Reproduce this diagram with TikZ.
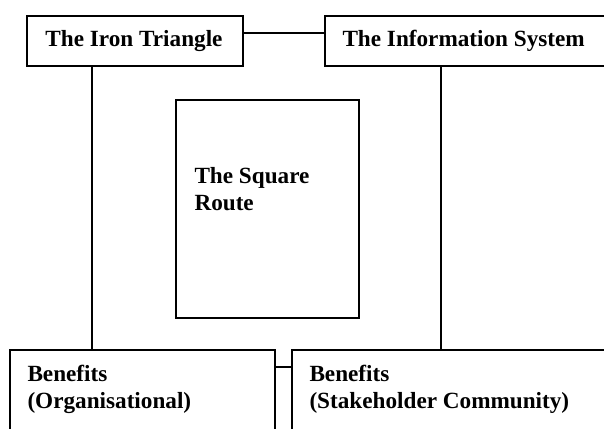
\documentclass[tikz,border=0pt]{standalone}
\usepackage{fontspec}
\setmainfont{Liberation Serif}
\usetikzlibrary{calc}
\begin{document}
\begin{tikzpicture}[x=1pt,y=-1pt,
  box/.style={draw=black, line width=1.4pt, rectangle, inner sep=0pt, fill=white},
  link/.style={draw=black, line width=1.5pt},
  lbl/.style={inner sep=0pt, font=\fontsize{23.2}{27}\selectfont\bfseries, align=left}]
  \useasboundingbox (0,0) rectangle (604,428);
  \clip (0,0) rectangle (604,428);
  % top row
  \node[box, minimum width=216pt, minimum height=50pt] (iron) at (135,41) {};
  \node[box, minimum width=287pt, minimum height=50pt] (info) at (468.5,41) {};
  % centre box
  \node[box, minimum width=183pt, minimum height=218pt] (square) at (267.5,209) {};
  % bottom row (runs past the lower edge)
  \node[box, minimum width=265pt, minimum height=90pt] (org) at (142.5,395) {};
  \node[box, minimum width=328pt, minimum height=90pt] (stake) at (456,395) {};
  % connectors
  \draw[link] ([yshift=8pt]iron.east) -- ([yshift=8pt]info.west);
  \draw[link] ([xshift=65.5pt]iron.south west) -- ([xshift=65.5pt]iron.south west |- org.north);
  \draw[link] ([xshift=116.5pt]info.south west) -- ([xshift=116.5pt]info.south west |- stake.north);
  \draw[link] ([yshift=28pt]org.east) -- ([yshift=28pt]stake.west);
  % labels
  \node[lbl] (ironlbl) at ([xshift=-1pt]iron.center) {The Iron Triangle};
  \node[lbl, anchor=west] (infolbl) at ([xshift=18pt]info.west) {The Information System};
  \node[lbl, anchor=north west] (squarelbl) at ($(square.north west)+(19,68)$) {The Square\\Route};
  \node[lbl, anchor=north west] (orglbl) at ($(org.north west)+(18,16)$) {Benefits\\(Organisational)};
  \node[lbl, anchor=north west] (stakelbl) at ($(stake.north west)+(18,16)$) {Benefits\\(Stakeholder Community)};
\end{tikzpicture}
\end{document}
